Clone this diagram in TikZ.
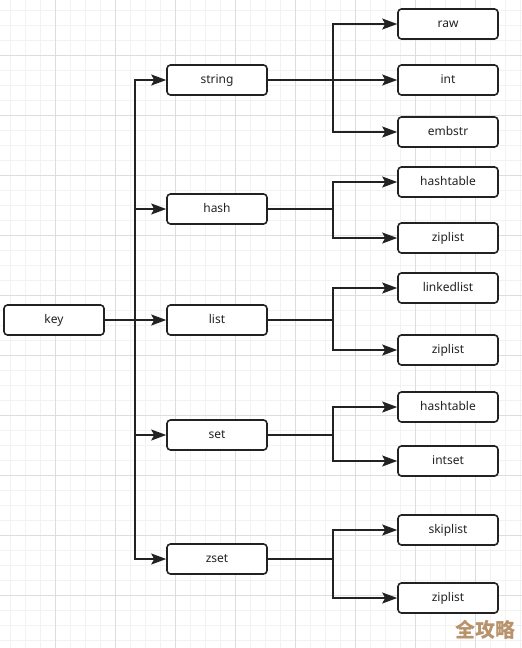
\documentclass[tikz,border=0pt]{standalone}
\usepackage{fontspec}
\setmainfont{Noto Sans}
\newfontfamily\cjkfont{Noto Sans CJK SC}
\usetikzlibrary{arrows.meta}
\definecolor{minorgrid}{HTML}{F2F2F2}
\definecolor{majorgrid}{HTML}{DDDDDD}
\definecolor{ink}{HTML}{222222}
\definecolor{wm}{HTML}{B8926A}
\begin{document}
\begin{tikzpicture}[x=1pt,y=-1pt,
  box/.style={draw=ink,line width=1.6pt,rounded corners=3.5pt,fill=white,
    minimum width=100pt,minimum height=30pt,inner sep=0pt,
    text height=9pt,text depth=2.5pt,
    font=\fontsize{12pt}{14pt}\selectfont,text=ink},
  conn/.style={draw=ink,line width=1.6pt},
  arr/.style={conn,-{Stealth[length=15pt,width=11pt,inset=3pt]}}]
\useasboundingbox (0,0) rectangle (522,648);
\fill[white] (0,0) rectangle (522,648);
% grid
\foreach \i in {10,25,...,520} \draw[minorgrid,line width=0.8pt] (\i,0) -- (\i,648);
\foreach \i in {10,25,...,645} \draw[minorgrid,line width=0.8pt] (0,\i) -- (522,\i);
\foreach \i in {55,115,...,520} \draw[majorgrid,line width=0.8pt] (\i,0) -- (\i,648);
\foreach \i in {55,115,...,645} \draw[majorgrid,line width=0.8pt] (0,\i) -- (522,\i);
% nodes
\node[box] (key) at (54,320) {key};
\node[box] (string) at (217,80) {string};
\node[box] (hash) at (217,209) {hash};
\node[box] (list) at (217,320) {list};
\node[box] (set) at (217,435) {set};
\node[box] (zset) at (217,559) {zset};
\node[box] (raw) at (448,24) {raw};
\node[box] (int) at (448,80) {int};
\node[box] (embstr) at (448,132) {embstr};
\node[box] (hashtable1) at (448,182) {hashtable};
\node[box] (ziplist1) at (448,238) {ziplist};
\node[box] (linkedlist) at (448,288) {linkedlist};
\node[box] (ziplist2) at (448,350) {ziplist};
\node[box] (hashtable2) at (448,407) {hashtable};
\node[box] (intset) at (448,461) {intset};
\node[box] (skiplist) at (448,530) {skiplist};
\node[box] (ziplist3) at (448,598) {ziplist};
% left tree
\coordinate (kb) at (135,320);
\draw[conn] (key.east) -- (kb);
\foreach \t in {string,hash,list,set,zset}
  \draw[arr] (kb) |- (\t.west);
% right trees
\coordinate (js) at (333,80);
\draw[conn] (string.east) -- (js);
\draw[arr] (js) |- (raw.west);
\draw[arr] (js) -- (int.west);
\draw[arr] (js) |- (embstr.west);
\foreach \s/\a/\b in {hash/hashtable1/ziplist1,list/linkedlist/ziplist2,set/hashtable2/intset,zset/skiplist/ziplist3}{
  \coordinate (j\s) at (333,0 |- \s.east);
  \draw[conn] (\s.east) -- (j\s);
  \draw[arr] (j\s) |- (\a.west);
  \draw[arr] (j\s) |- (\b.west);
}
% watermark
\node[text=wm,font=\cjkfont\bfseries\fontsize{20pt}{22pt}\selectfont,inner sep=0pt] (wmk) at (485,630) {全攻略};
\end{tikzpicture}
\end{document}
